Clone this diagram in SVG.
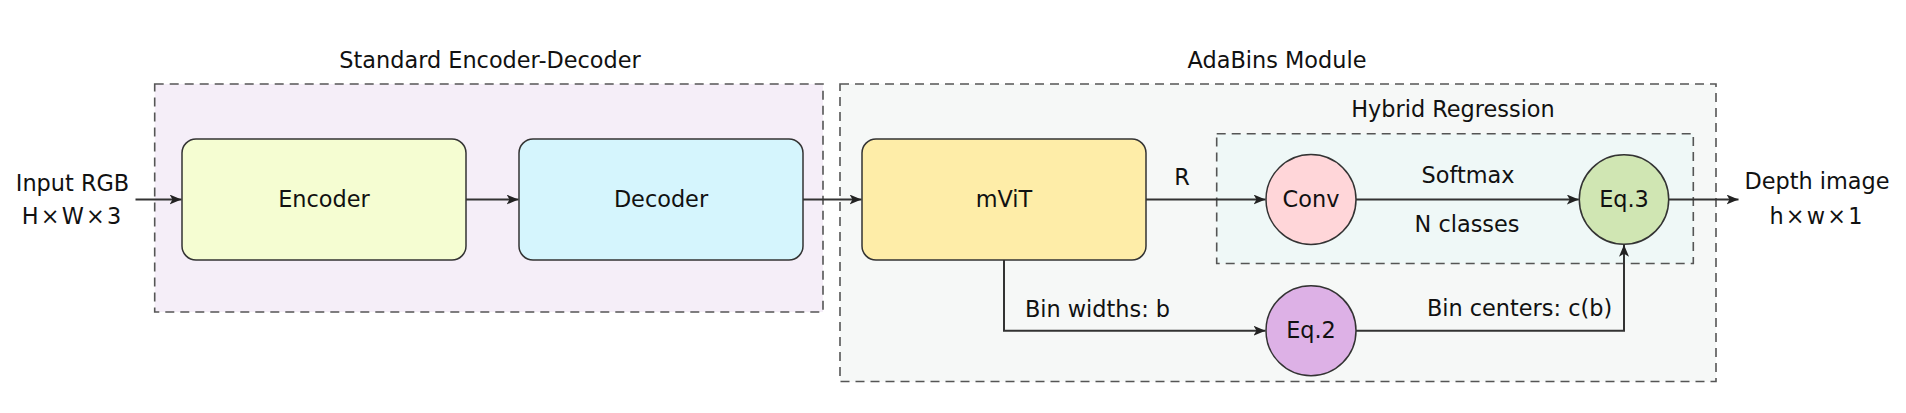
<svg xmlns="http://www.w3.org/2000/svg" width="1906" height="413" viewBox="0 0 1906 413">
<style>
text{font-family:"DejaVu Sans","Liberation Sans",sans-serif;font-size:22.4px;fill:#111;}
.mid{text-anchor:middle;}
.grp{stroke:#555;stroke-width:1.6;stroke-dasharray:9,6;}
.box{stroke:#333;stroke-width:1.5;}
.ln{stroke:#333;stroke-width:2;fill:none;}
</style>
<defs>
<marker id="ah" markerUnits="userSpaceOnUse" markerWidth="14" markerHeight="12" refX="12" refY="5" orient="auto">
<path d="M0,0 L12,5 L0,10 L3,5 Z" fill="#222"/>
</marker>
</defs>
<rect width="1906" height="413" fill="#fff"/>
<g id="group-standard">
<rect class="grp" x="154.7" y="84" width="668.3" height="228" fill="#F5EEF8"/>
<text class="mid" x="490" y="68">Standard Encoder-Decoder</text>
</g>
<g id="group-adabins">
<rect class="grp" x="840" y="84" width="876" height="297.5" fill="#F6F8F7"/>
<text class="mid" x="1277" y="68">AdaBins Module</text>
</g>
<g id="group-hybrid">
<rect class="grp" x="1216.7" y="133.7" width="476.6" height="129.8" fill="#EFF8F7"/>
<text class="mid" x="1453" y="117">Hybrid Regression</text>
</g>
<g id="input">
<text class="mid" x="72.5" y="191">Input RGB</text>
<text class="mid" x="71.5" y="224">H&#x200A;×&#x200A;W&#x200A;×&#x200A;3</text>
</g>
<g id="encoder">
<rect class="box" x="182" y="139" width="284" height="121" rx="14" fill="#F5FDD2"/>
<text class="mid" x="324" y="207">Encoder</text>
</g>
<g id="decoder">
<rect class="box" x="519" y="139" width="284" height="121" rx="14" fill="#D5F5FD"/>
<text class="mid" x="661" y="207">Decoder</text>
</g>
<g id="mvit">
<rect class="box" x="862" y="139" width="284" height="121" rx="14" fill="#FEEDA8"/>
<text class="mid" x="1004" y="207">mViT</text>
</g>
<g id="conv">
<circle class="box" cx="1311" cy="199.5" r="45" fill="#FFD6D9"/>
<text class="mid" x="1311" y="207">Conv</text>
</g>
<g id="eq3">
<circle class="box" cx="1624" cy="199.5" r="44.7" fill="#D0E6B3"/>
<text class="mid" x="1624" y="207">Eq.3</text>
</g>
<g id="eq2">
<circle class="box" cx="1311" cy="330.7" r="45" fill="#DDB1E6"/>
<text class="mid" x="1311" y="338">Eq.2</text>
</g>
<g id="output">
<text class="mid" x="1817" y="189">Depth image</text>
<text class="mid" x="1816" y="224">h&#x200A;×&#x200A;w&#x200A;×&#x200A;1</text>
</g>
<g id="connectors">
<line class="ln" x1="135.5" y1="199.5" x2="181.5" y2="199.5" marker-end="url(#ah)"/>
<line class="ln" x1="466" y1="199.5" x2="518.5" y2="199.5" marker-end="url(#ah)"/>
<line class="ln" x1="803" y1="199.5" x2="861.5" y2="199.5" marker-end="url(#ah)"/>
<line class="ln" x1="1146" y1="199.5" x2="1265.5" y2="199.5" marker-end="url(#ah)"/>
<line class="ln" x1="1356" y1="199.5" x2="1578.8" y2="199.5" marker-end="url(#ah)"/>
<line class="ln" x1="1668.7" y1="199.5" x2="1738.5" y2="199.5" marker-end="url(#ah)"/>
<polyline class="ln" points="1004,260 1004,330.7 1265.5,330.7" marker-end="url(#ah)"/>
<polyline class="ln" points="1356,330.7 1624,330.7 1624,244.7" marker-end="url(#ah)"/>
<text class="mid" x="1182" y="185">R</text>
<text class="mid" x="1468" y="183">Softmax</text>
<text class="mid" x="1467" y="231.5">N classes</text>
<text class="mid" x="1097.5" y="316.5">Bin widths: b</text>
<text class="mid" x="1519.5" y="316">Bin centers: c(b)</text>
</g>
</svg>
